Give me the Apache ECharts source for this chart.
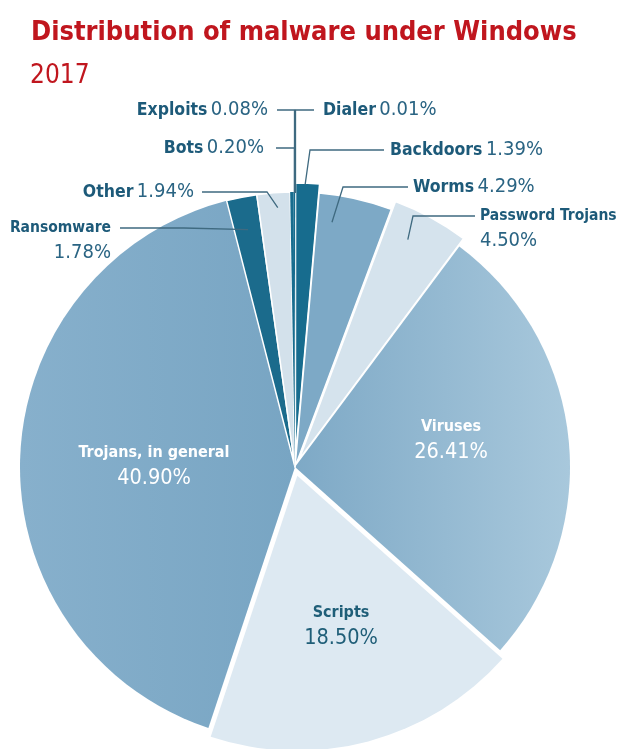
<!DOCTYPE html>
<html><head><meta charset="utf-8">
<script src="https://cdn.jsdelivr.net/npm/echarts@6/dist/echarts.min.js"></script>
<style>html,body{margin:0;padding:0;background:#fff}#c{width:617px;height:749px}</style>
</head><body><div id="c"></div>
<script>
// ---- data ----
const titleText = 'Distribution of malware under Windows';
const yearText = '2017';
const categories = ['Dialer', 'Backdoors', 'Worms', 'Password Trojans', 'Viruses', 'Scripts',
  'Trojans, in general', 'Ransomware', 'Other', 'Bots', 'Exploits'];
const shares = [0.01, 1.39, 4.29, 4.50, 26.41, 18.50, 40.90, 1.78, 1.94, 0.20, 0.08];
const explodedSlices = ['Backdoors', 'Password Trojans', 'Scripts'];

// ---- layout / style ----
const FONT = '"Liberation Sans Narrow","DejaVu Sans Condensed","Liberation Sans",sans-serif';
const CX = 295, CY = 467, R = 275, OFFSET = 9;
const RED = '#c0161e', INK = '#1d5a79', INK2 = '#2a6483', LINE = '#3f6a80';
const CLEAR = 'rgba(0,0,0,0)';

const sliceColors = {
  'Dialer': '#176c8e',
  'Backdoors': '#176c8e',
  'Worms': '#7da9c6',
  'Password Trojans': '#d5e3ed',
  'Viruses': { type: 'linear', x: 0, y: 0, x2: 1, y2: 0, colorStops: [{ offset: 0, color: '#7ea9c6' }, { offset: 1, color: '#a8c8dc' }] },
  'Scripts': '#dde9f2',
  'Trojans, in general': { type: 'linear', x: 0, y: 0, x2: 1, y2: 0, colorStops: [{ offset: 0, color: '#87b0cc' }, { offset: 1, color: '#78a5c3' }] },
  'Ransomware': '#1b6b8c',
  'Other': '#d3e1eb',
  'Bots': '#176c8e',
  'Exploits': '#176c8e'
};
const borderWhite = ['Backdoors', 'Worms', 'Password Trojans', 'Ransomware', 'Other'];

// label placement (annotation layout); 'at' = position within slice angle, 'depth' = radius fraction
const labelSpec = {
  'Dialer': { kind: 'inline', x: 323, y: 110, align: 'left', vx: 295.5, line: [[295.5, 110], [314, 110]] },
  'Exploits': { kind: 'inline', x: 268, y: 110, align: 'right', vx: 294.5, line: [[294.5, 110], [277, 110]] },
  'Bots': { kind: 'inline', x: 264, y: 148, align: 'right', vx: 294.5, line: [[294.5, 148], [276, 148]] },
  'Backdoors': { kind: 'inline', x: 390, y: 150, align: 'left', at: 0.4, depth: 0.995, line: [[310, 150], [384, 150]] },
  'Worms': { kind: 'inline', x: 413, y: 187, align: 'left', at: 0.23, depth: 0.9, line: [[343, 187], [408, 187]] },
  'Password Trojans': { kind: 'two', x: 480, y: 203, align: 'left', valign: 'top', at: 0.36, depth: 0.89, line: [[413, 216], [475, 216]] },
  'Other': { kind: 'inline', x: 194, y: 192, align: 'right', at: 0.6, depth: 0.945, line: [[267, 192], [202, 192]] },
  'Ransomware': { kind: 'two', x: 111, y: 215, align: 'right', valign: 'top', at: 0.5, depth: 0.88, line: [[184, 228], [120, 228]] },
  'Trojans, in general': { kind: 'inside', x: 154, y: 466, align: 'center', tone: 'w' },
  'Viruses': { kind: 'inside', x: 451, y: 440, align: 'center', tone: 'w' },
  'Scripts': { kind: 'inside', x: 341, y: 626, align: 'center', tone: 'd' }
};

function fmt(v) { return v.toFixed(2) + '%'; }

function textWidth(str, weight, size) {
  const ctx = document.createElement('canvas').getContext('2d');
  ctx.font = weight + ' ' + size + 'px ' + FONT;
  return ctx.measureText(str).width;
}
const titleSize = Math.round(100 * 545 / textWidth(titleText, 'bold', 100) * 10) / 10;

const total = shares.reduce((a, b) => a + b, 0);
function angleAt(i, frac) {
  let s = 0;
  for (let k = 0; k < i; k++) s += shares[k];
  return ((s + shares[i] * frac) / total) * Math.PI * 2;
}
function isExploded(name) { return explodedSlices.indexOf(name) >= 0; }

// layer 1: the pulled-out slices
const explodedData = categories.map((name, i) => {
  const ex = isExploded(name);
  return {
    name: name, value: shares[i], selected: ex,
    itemStyle: {
      color: ex ? sliceColors[name] : CLEAR,
      borderColor: '#ffffff',
      borderWidth: (ex && borderWhite.indexOf(name) >= 0) ? 1.5 : 0
    }
  };
});
// layer 2: the slices that stay in place
const mainData = categories.map((name, i) => {
  const ex = isExploded(name);
  return {
    name: name, value: shares[i],
    itemStyle: {
      color: ex ? CLEAR : sliceColors[name],
      borderColor: '#ffffff',
      borderWidth: (!ex && borderWhite.indexOf(name) >= 0) ? 1.5 : 0
    }
  };
});
// layer 3: labels and leader lines only, drawn on top
const labelData = categories.map((name, i) => {
  const inside = labelSpec[name].kind === 'inside';
  return {
    name: name, value: shares[i],
    itemStyle: { color: CLEAR, borderWidth: 0 },
    label: { position: inside ? 'inside' : 'outside' },
    labelLine: { show: !inside }
  };
});

const pieBase = {
  type: 'pie',
  center: [CX, CY],
  radius: [0, R],
  startAngle: 90,
  clockwise: true,
  silent: true,
  emphasis: { disabled: true },
  avoidLabelOverlap: false
};

const chart = echarts.init(document.getElementById('c'), null, { renderer: 'canvas' });
chart.setOption({
  animation: false,
  backgroundColor: '#ffffff',
  title: [
    { text: titleText, left: 31, top: 42 - titleSize * 0.82, padding: 0,
      textStyle: { fontFamily: FONT, fontWeight: 'bold', fontSize: titleSize, color: RED } },
    { text: yearText, left: 30, top: 63, padding: 0,
      textStyle: { fontFamily: FONT, fontWeight: 'normal', fontSize: 26, color: RED } }
  ],
  series: [
    Object.assign({}, pieBase, {
      z: 1, selectedMode: 'multiple', selectedOffset: OFFSET,
      label: { show: false }, labelLine: { show: false }, data: explodedData
    }),
    Object.assign({}, pieBase, {
      z: 2, selectedMode: false,
      label: { show: false }, labelLine: { show: false }, data: mainData
    }),
    Object.assign({}, pieBase, {
      z: 3, selectedMode: false,
      data: labelData,
      label: {
        show: true,
        fontFamily: FONT,
        formatter: function (p) {
          const s = labelSpec[p.name];
          const v = fmt(p.value);
          if (s.kind === 'inline') return '{n|' + p.name + '} {v|' + v + '}';
          if (s.kind === 'two') return '{ns|' + p.name + '}\n{v|' + v + '}';
          if (s.tone === 'w') return '{wn|' + p.name + '}\n{wv|' + v + '}';
          return '{dn|' + p.name + '}\n{dv|' + v + '}';
        },
        rich: {
          n: { fontFamily: FONT, fontWeight: 'bold', fontSize: 17.5, color: INK, lineHeight: 25 },
          ns: { fontFamily: FONT, fontWeight: 'bold', fontSize: 15.5, color: INK, lineHeight: 25 },
          v: { fontFamily: FONT, fontSize: 20, color: INK2, lineHeight: 25 },
          wn: { fontFamily: FONT, fontWeight: 'bold', fontSize: 16, color: '#ffffff', lineHeight: 24, align: 'center' },
          wv: { fontFamily: FONT, fontSize: 21.5, color: '#ffffff', lineHeight: 26, align: 'center' },
          dn: { fontFamily: FONT, fontWeight: 'bold', fontSize: 16, color: '#1f5e78', lineHeight: 24, align: 'center' },
          dv: { fontFamily: FONT, fontSize: 21.5, color: '#1f5e78', lineHeight: 26, align: 'center' }
        }
      },
      labelLine: { show: true, showAbove: true, lineStyle: { color: LINE, width: 1.3 } },
      labelLayout: function (p) {
        const name = categories[p.dataIndex];
        const s = labelSpec[name];
        const out = { x: s.x, y: s.y, align: s.align, verticalAlign: s.valign || 'middle' };
        if (s.line) {
          let start;
          if (s.vx != null) {
            start = [s.vx, CY - R + 1];
          } else {
            const a = angleAt(p.dataIndex, s.at);
            const mid = angleAt(p.dataIndex, 0.5);
            const off = isExploded(name) ? OFFSET : 0;
            const r = R * s.depth;
            start = [CX + Math.sin(a) * r + Math.sin(mid) * off, CY - Math.cos(a) * r - Math.cos(mid) * off];
          }
          out.labelLinePoints = [start].concat(s.line);
        }
        return out;
      }
    })
  ]
});
</script>
</body></html>
